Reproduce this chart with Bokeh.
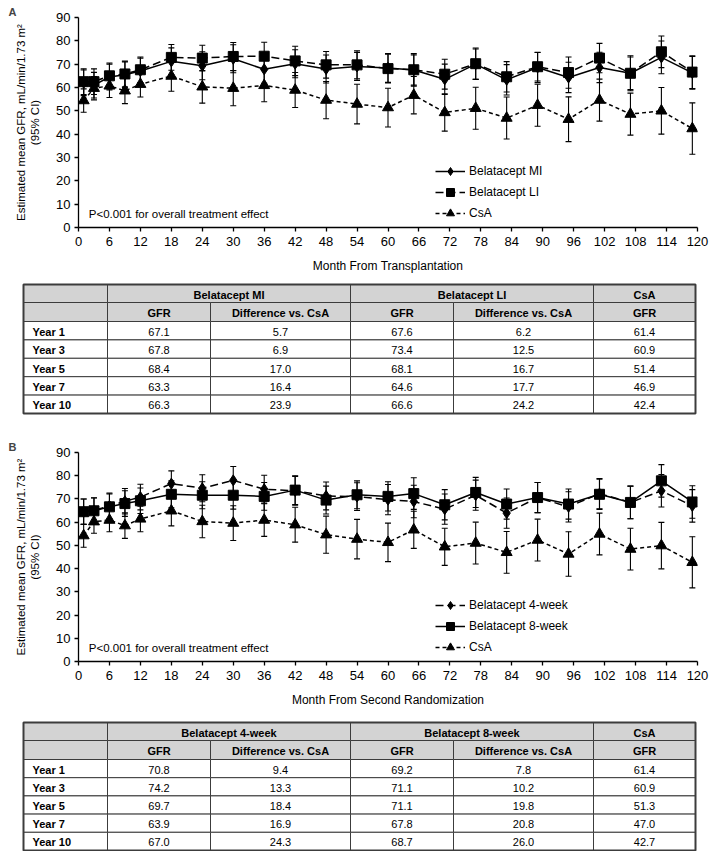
from bokeh.plotting import figure
from bokeh.models import (Range1d, FixedTicker, ColumnDataSource, Whisker, TeeHead,
                          Legend, LegendItem, Label)
from bokeh.layouts import column, row
from bokeh.embed import file_html
from bokeh.resources import INLINE
from bokeh.core.properties import value

# ---------------- data ----------------
months = [1, 3, 6, 9, 12, 18, 24, 30, 36, 42, 48, 54, 60, 65, 71, 77, 83, 89, 95, 101, 107, 113, 119]
x_ticks = list(range(0, 121, 6))
y_ticks = list(range(0, 91, 10))

# Panel A
mi_A = [62.0, 61.0, 64.5, 65.5, 67.1, 71.2, 69.3, 72.3, 67.8, 70.2, 67.9, 69.0, 68.4, 67.5, 63.5, 70.0, 63.3, 68.6, 64.3, 68.6, 66.1, 72.9, 66.3]
ci_mi_A = [5.5, 5.5, 5.5, 5.5, 5.5, 5.8, 6.0, 6.0, 6.0, 6.0, 6.0, 6.0, 6.2, 6.5, 6.5, 6.5, 6.5, 6.5, 6.5, 6.5, 7.0, 7.0, 7.0]
li_A = [62.5, 62.5, 65.0, 65.8, 67.6, 72.9, 72.6, 73.3, 73.4, 71.4, 69.7, 69.7, 68.1, 67.6, 65.7, 70.2, 64.6, 68.9, 66.4, 72.6, 66.1, 75.3, 66.6]
ci_li_A = [5.5, 5.5, 5.5, 5.5, 5.5, 5.5, 5.5, 6.0, 6.0, 6.3, 5.7, 6.0, 6.2, 7.0, 6.4, 6.7, 6.5, 6.1, 6.7, 6.3, 7.5, 6.8, 7.0]
csa_A = [54.4, 59.7, 60.7, 58.6, 61.4, 64.9, 60.3, 59.7, 60.9, 58.9, 54.6, 52.9, 51.4, 56.7, 49.3, 51.1, 46.9, 52.4, 46.4, 54.6, 48.6, 50.0, 42.4]
ci_csa_A = [5.0, 5.0, 5.0, 5.5, 5.5, 6.5, 7.0, 7.5, 7.0, 7.5, 8.0, 8.5, 8.3, 8.0, 8.0, 9.0, 9.0, 9.0, 9.6, 9.0, 9.0, 10.0, 11.0]

# Panel B
w4_B = [64.5, 65.0, 67.0, 69.0, 70.8, 76.6, 74.6, 78.0, 74.2, 73.5, 71.3, 71.0, 69.7, 68.9, 65.6, 71.6, 63.9, 70.6, 66.6, 72.3, 68.5, 73.5, 67.0]
ci_w4_B = [5.5, 5.5, 5.5, 5.5, 5.5, 5.5, 5.8, 6.0, 6.0, 6.2, 6.0, 6.0, 6.5, 7.0, 6.5, 6.5, 6.5, 6.5, 6.5, 6.5, 7.0, 7.0, 7.0]
w8_B = [64.5, 64.9, 66.6, 68.0, 69.2, 72.0, 71.6, 71.6, 71.1, 73.8, 69.5, 71.8, 71.1, 72.3, 67.5, 72.8, 67.8, 70.6, 67.8, 72.0, 68.5, 77.8, 68.7]
ci_w8_B = [5.5, 5.5, 5.5, 5.5, 5.5, 5.8, 5.8, 6.0, 6.0, 6.2, 6.0, 6.0, 6.3, 6.8, 6.5, 6.5, 6.5, 6.5, 6.5, 6.5, 7.0, 7.0, 7.0]
csa_B = [54.2, 60.2, 60.9, 58.5, 61.4, 64.9, 60.3, 59.6, 60.9, 58.9, 54.6, 52.7, 51.3, 56.7, 49.4, 51.0, 47.0, 52.3, 46.3, 54.9, 48.4, 49.9, 42.7]
ci_csa_B = [5.0, 5.0, 5.0, 5.5, 5.5, 6.5, 7.0, 7.5, 7.0, 7.5, 8.0, 8.5, 8.3, 8.0, 8.0, 9.0, 9.0, 9.0, 9.6, 9.0, 9.0, 10.0, 11.0]

# Tables
table_rows = ["Year 1", "Year 3", "Year 5", "Year 7", "Year 10"]
sub_headers = ["GFR", "Difference vs. CsA", "GFR", "Difference vs. CsA", "GFR"]
groups_A = ["Belatacept MI", "Belatacept LI", "CsA"]
tA_mi_gfr = [67.1, 67.8, 68.4, 63.3, 66.3]
tA_mi_diff = [5.7, 6.9, 17.0, 16.4, 23.9]
tA_li_gfr = [67.6, 73.4, 68.1, 64.6, 66.6]
tA_li_diff = [6.2, 12.5, 16.7, 17.7, 24.2]
tA_csa_gfr = [61.4, 60.9, 51.4, 46.9, 42.4]
groups_B = ["Belatacept 4-week", "Belatacept 8-week", "CsA"]
tB_w4_gfr = [70.8, 74.2, 69.7, 63.9, 67.0]
tB_w4_diff = [9.4, 13.3, 18.4, 16.9, 24.3]
tB_w8_gfr = [69.2, 71.1, 71.1, 67.8, 68.7]
tB_w8_diff = [7.8, 10.2, 19.8, 20.8, 26.0]
tB_csa_gfr = [61.4, 60.9, 51.3, 47.0, 42.7]

# ---------------- style ----------------
FONT = "Liberation Sans"
W = 709
LONG_DASH = "8 4"
SHORT_DASH = "4 3"


def make_chart(tag, xlabel, series, top_border, frame_h, bottom_border):
    p = figure(width=W, height=top_border + frame_h + bottom_border,
               x_range=Range1d(0, 120), y_range=Range1d(0, 90),
               output_backend="svg", toolbar_location=None,
               min_border_left=78, min_border_right=12,
               min_border_top=top_border, min_border_bottom=bottom_border)
    p.outline_line_color = None
    p.grid.visible = False
    p.title.text = tag
    p.title.text_font = FONT
    p.title.text_font_size = "11px"
    p.title.text_font_style = "bold"
    p.title.align = "left"
    p.title.offset = -70
    p.title.standoff = 0

    p.xaxis.ticker = FixedTicker(ticks=x_ticks)
    p.yaxis.ticker = FixedTicker(ticks=y_ticks)
    p.xaxis.axis_label = xlabel
    p.yaxis.axis_label = "Estimated mean GFR, mL/min/1.73 m\u00b2\n(95% CI)"
    for ax in (p.xaxis, p.yaxis):
        ax.axis_line_color = "black"
        ax.axis_line_width = 1.3
        ax.major_tick_line_color = "black"
        ax.major_tick_line_width = 1.3
        ax.major_tick_out = 4
        ax.major_tick_in = 0
        ax.minor_tick_line_color = None
        ax.major_label_text_font = FONT
        ax.major_label_text_font_size = "13px"
        ax.major_label_text_color = "black"
        ax.major_label_standoff = 4
        ax.axis_label_text_font = FONT
        ax.axis_label_text_font_size = "12px"
        ax.axis_label_text_font_style = "normal"
        ax.axis_label_text_color = "black"
    p.yaxis.axis_label_text_font_size = "11.5px"
    p.xaxis.major_label_standoff = 5
    p.xaxis.axis_label_standoff = 10
    p.yaxis.axis_label_standoff = 12

    items = []
    for s in series:
        src = ColumnDataSource(dict(x=months, y=s["y"],
                                    upper=[v + c for v, c in zip(s["y"], s["ci"])],
                                    lower=[v - c for v, c in zip(s["y"], s["ci"])]))
        wk = Whisker(source=src, base="x", upper="upper", lower="lower",
                     line_color="black", line_width=1.1,
                     upper_head=TeeHead(size=6, line_color="black", line_width=1.1),
                     lower_head=TeeHead(size=6, line_color="black", line_width=1.1))
        p.add_layout(wk)
        ln = p.line("x", "y", source=src, line_color="black", line_width=1.5,
                    line_dash=s["dash"])
        sc = p.scatter("x", "y", source=src, marker=s["marker"], size=s["size"],
                       fill_color="black", line_color="black")
        items.append((s["label"], [ln, sc], s["order"]))

    items.sort(key=lambda t: t[2])
    legend = Legend(items=[LegendItem(label=l, renderers=r) for l, r, _ in items],
                    location=(357, 4), orientation="vertical",
                    glyph_width=30, glyph_height=20, label_height=20,
                    label_standoff=4, spacing=1, padding=0, margin=0,
                    border_line_color=None, background_fill_alpha=0,
                    label_text_font=FONT, label_text_font_size="12px",
                    label_text_color="black")
    p.add_layout(legend)

    p.add_layout(Label(x=2, y=6.0, text="P<0.001 for overall treatment effect",
                       text_font=FONT, text_font_size="11.5px",
                       text_baseline="middle", text_color="black"))
    return p


# table layout (screen-like units)
COL_X = [23, 107, 210, 350, 453, 593, 695]
ROW_Y_A = [3, 21, 40, 58.4, 76.8, 95.2, 113.6, 132]
ROW_Y_B = [3, 21, 40, 58.2, 76.4, 94.6, 112.8, 131]
HEADER_FILL = "#d3d3d3"
LINE_C = "#3c3c3c"
TABLE_FS = "11px"


def make_table(groups, columns, row_y, height):
    t = figure(width=W, height=height, x_range=Range1d(0, W), y_range=Range1d(height, 0),
               output_backend="svg", toolbar_location=None, min_border=0,
               min_border_left=0, min_border_right=0, min_border_top=0, min_border_bottom=0,
               x_axis_type=None, y_axis_type=None)
    t.outline_line_color = None
    t.grid.visible = False

    L, R, T, B, F = [], [], [], [], []
    spans1 = [(0, 1), (1, 3), (3, 5), (5, 6)]
    for a, b in spans1:
        L.append(COL_X[a]); R.append(COL_X[b]); T.append(row_y[0]); B.append(row_y[1]); F.append(HEADER_FILL)
    for i in range(6):
        L.append(COL_X[i]); R.append(COL_X[i + 1]); T.append(row_y[1]); B.append(row_y[2]); F.append(HEADER_FILL)
    for r in range(len(table_rows)):
        for i in range(6):
            L.append(COL_X[i]); R.append(COL_X[i + 1]); T.append(row_y[2 + r]); B.append(row_y[3 + r]); F.append("white")
    t.quad(left=L, right=R, top=T, bottom=B, fill_color=F, line_color=LINE_C, line_width=1)
    t.quad(left=[COL_X[0]], right=[COL_X[-1]], top=[row_y[0]], bottom=[row_y[-1]],
           fill_alpha=0, line_color=LINE_C, line_width=2)

    hx, hy, ht = [], [], []
    for (a, b), g in zip(spans1[1:], groups):
        hx.append((COL_X[a] + COL_X[b]) / 2); hy.append((row_y[0] + row_y[1]) / 2 + 1); ht.append(g)
    for i, s in enumerate(sub_headers):
        hx.append((COL_X[i + 1] + COL_X[i + 2]) / 2); hy.append((row_y[1] + row_y[2]) / 2 + 1); ht.append(s)
    t.text(x=hx, y=hy, text=ht, text_align="center", text_baseline="middle",
           text_font=value(FONT), text_font_size=TABLE_FS, text_font_style="bold",
           text_color="black")
    t.text(x=[COL_X[0] + 9] * len(table_rows),
           y=[(row_y[2 + r] + row_y[3 + r]) / 2 + 1 for r in range(len(table_rows))],
           text=table_rows, text_align="left", text_baseline="middle",
           text_font=value(FONT), text_font_size=TABLE_FS, text_font_style="bold",
           text_color="black")
    vx, vy, vt = [], [], []
    for ci, col in enumerate(columns):
        for r, v in enumerate(col):
            vx.append((COL_X[ci + 1] + COL_X[ci + 2]) / 2)
            vy.append((row_y[2 + r] + row_y[3 + r]) / 2 + 1)
            vt.append(f"{v:.1f}")
    t.text(x=vx, y=vy, text=vt, text_align="center", text_baseline="middle",
           text_font=value(FONT), text_font_size=TABLE_FS, text_color="black")
    return t


seriesA = [
    dict(label="CsA", y=csa_A, ci=ci_csa_A, marker="triangle", size=11, dash=SHORT_DASH, order=2),
    dict(label="Belatacept LI", y=li_A, ci=ci_li_A, marker="square", size=10, dash=LONG_DASH, order=1),
    dict(label="Belatacept MI", y=mi_A, ci=ci_mi_A, marker="diamond", size=11, dash="solid", order=0),
]
seriesB = [
    dict(label="CsA", y=csa_B, ci=ci_csa_B, marker="triangle", size=11, dash=SHORT_DASH, order=2),
    dict(label="Belatacept 4-week", y=w4_B, ci=ci_w4_B, marker="diamond", size=11, dash=LONG_DASH, order=0),
    dict(label="Belatacept 8-week", y=w8_B, ci=ci_w8_B, marker="square", size=10, dash="solid", order=1),
]

pA = make_chart("A", "Month From Transplantation", seriesA, 17, 210, 54)
tA = make_table(groups_A, [tA_mi_gfr, tA_mi_diff, tA_li_gfr, tA_li_diff, tA_csa_gfr], ROW_Y_A, 134)
pB = make_chart("B", "Month From Second Randomization", seriesB, 37, 209, 58)
tB = make_table(groups_B, [tB_w4_gfr, tB_w4_diff, tB_w8_gfr, tB_w8_diff, tB_csa_gfr], ROW_Y_B, 132)

layout = column(row(pA), row(tA), row(pB), row(tB), spacing=0)
open("out.html", "w").write(file_html(layout, INLINE))
